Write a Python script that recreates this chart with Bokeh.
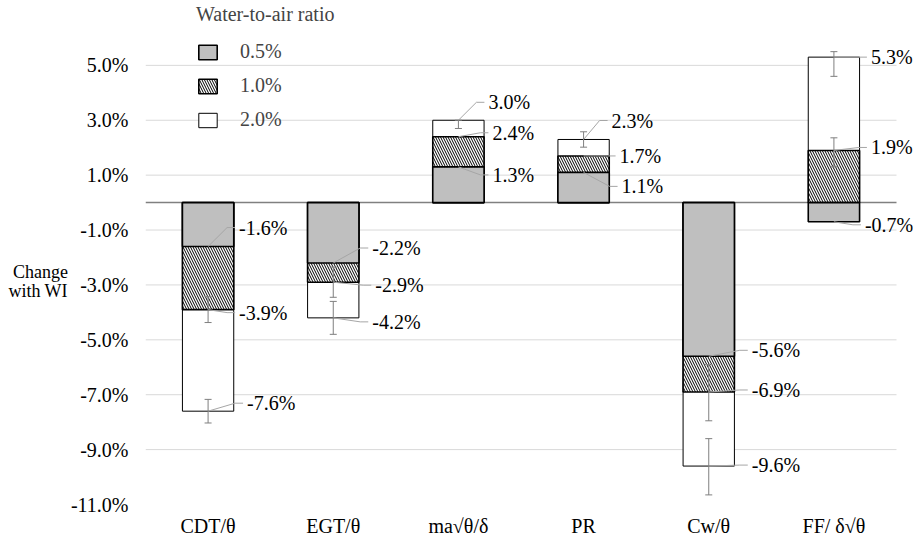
from bokeh.plotting import figure
from bokeh.models import (ColumnDataSource, Range1d, FixedTicker, PrintfTickFormatter,
                          Legend, LegendItem, LabelSet, Whisker, TeeHead)
from bokeh.embed import file_html
from bokeh.resources import INLINE

# ---------------- data ----------------
categories = ["CDT/θ", "EGT/θ", "ma√θ/δ", "PR", "Cw/θ", "FF/ δ√θ"]
series_names = ["0.5%", "1.0%", "2.0%"]
vals_05 = [-1.6, -2.2, 1.3, 1.1, -5.6, -0.7]
vals_10 = [-3.9, -2.9, 2.4, 1.7, -6.9, 1.9]
vals_20 = [-7.6, -4.2, 3.0, 2.3, -9.6, 5.3]
# error bar extents (percentage points)
err_plus_10 = [0.47, 0.55, 0.0, 0.0, 1.0, 0.46]
err_minus_10 = [0.47, 0.55, 0.0, 0.0, 1.05, 0.6]
err_plus_20 = [0.43, 0.6, 0.0, 0.28, 1.0, 0.2]
err_minus_20 = [0.43, 0.6, 0.3, 0.28, 1.05, 0.7]
y_ticks = [-11, -9, -7, -5, -3, -1, 1, 3, 5]
grid_ticks = [-9, -7, -5, -3, -1, 1, 3, 5]

# ---------------- layout / style ----------------
FONT = "Liberation Serif"
W, H = 913, 539
BL, BR, BT, BB = 145, 0, 0, 34
FW, FH = W - BL - BR, H - BT - BB
PX_X = 751 / 6.0                 # pixels per category
PX_Y = 27.5                      # pixels per percentage point
Y0 = -11.0
Y1 = Y0 + FH / PX_Y
X0 = -0.5
X1 = X0 + FW / PX_X
BAR_W = 0.41

# label placement offsets in pixels (dx right from bar centre, dy down from value)
lab_dx = {"0.5%": [31, 39, 34, 38, 43, 31], "1.0%": [31, 42, 34, 36, 43, 37], "2.0%": [39, 39, 30, 28, 43, 37]}
lab_dy = {"0.5%": [-19, -15, 8, 14, -6, 3], "1.0%": [3, 3, -4, 0, -2, -3], "2.0%": [-8, 4, -18, -19, -1, 0]}

p = figure(width=W, height=H, x_range=Range1d(X0, X1), y_range=Range1d(Y0, Y1),
           output_backend="svg", toolbar_location=None,
           min_border_left=BL, min_border_right=BR, min_border_top=BT, min_border_bottom=BB)
p.outline_line_color = None
p.background_fill_color = "white"

xs = list(range(len(categories)))

# axes
p.yaxis.ticker = FixedTicker(ticks=y_ticks)
p.yaxis.formatter = PrintfTickFormatter(format="%.1f%%")
p.yaxis.axis_line_color = None
p.yaxis.major_tick_line_color = None
p.yaxis.minor_tick_line_color = None
p.yaxis.major_tick_out = 0
p.yaxis.major_tick_in = 0
p.yaxis.major_label_standoff = 17
p.yaxis.major_label_text_font = FONT
p.yaxis.major_label_text_font_size = "20px"
p.yaxis.major_label_text_color = "#000000"
p.yaxis.axis_label = "\n\n\nChange\nwith WI"
p.yaxis.axis_label_orientation = "horizontal"
p.yaxis.axis_label_standoff = 0
p.yaxis.axis_label_text_font = FONT
p.yaxis.axis_label_text_font_size = "18px"
p.yaxis.axis_label_text_font_style = "normal"
p.yaxis.axis_label_text_color = "#000000"
p.yaxis.axis_label_text_line_height = 0.95

p.xaxis.ticker = FixedTicker(ticks=xs)
p.xaxis.major_label_overrides = {i: c for i, c in zip(xs, categories)}
p.xaxis.axis_line_color = None
p.xaxis.major_tick_line_color = None
p.xaxis.minor_tick_line_color = None
p.xaxis.major_tick_out = 0
p.xaxis.major_tick_in = 0
p.xaxis.major_label_standoff = 10
p.xaxis.major_label_text_font = FONT
p.xaxis.major_label_text_font_size = "20px"
p.xaxis.major_label_text_color = "#000000"

p.xgrid.visible = False
p.ygrid.visible = False
# horizontal gridlines limited to the category area, then the zero line
p.segment(x0=-0.5, x1=len(categories) - 0.5, y0=grid_ticks, y1=grid_ticks,
          line_color="#d9d9d9", line_width=1)
p.segment(x0=[-0.5], x1=[len(categories) - 0.5], y0=[0], y1=[0],
          line_color="#808080", line_width=1.5)

# bars: 2.0% behind, 1.0% middle, 0.5% front
src20 = ColumnDataSource(dict(x=xs, top=vals_20))
src10 = ColumnDataSource(dict(x=xs, top=vals_10))
src05 = ColumnDataSource(dict(x=xs, top=vals_05))
r20 = p.vbar(x="x", top="top", bottom=0, width=BAR_W, source=src20,
             fill_color="white", line_color="black", line_width=1)
r10 = p.vbar(x="x", top="top", bottom=0, width=BAR_W, source=src10,
             fill_color="white", hatch_pattern="\\", hatch_color="black", hatch_scale=5,
             hatch_weight=1, line_color="black", line_width=1.6)
r05 = p.vbar(x="x", top="top", bottom=0, width=BAR_W, source=src05,
             fill_color="#bfbfbf", line_color="black", line_width=1.6)

# error bars (drawn over the bars)
for vals, ep, em in ((vals_10, err_plus_10, err_minus_10), (vals_20, err_plus_20, err_minus_20)):
    bx, up, lo = [], [], []
    for i, v in enumerate(vals):
        if ep[i] == 0 and em[i] == 0:
            continue
        bx.append(i); up.append(v + ep[i]); lo.append(v - em[i])
    es = ColumnDataSource(dict(base=bx, upper=up, lower=lo))
    p.add_layout(Whisker(source=es, base="base", upper="upper", lower="lower", dimension="height",
                         level="annotation", line_color="#7f7f7f", line_width=1,
                         upper_head=TeeHead(size=7, line_color="#7f7f7f", line_width=1),
                         lower_head=TeeHead(size=7, line_color="#7f7f7f", line_width=1)))

# data labels with leader lines
lx, ly, lt, mxs, mys = [], [], [], [], []
for name, vals in (("0.5%", vals_05), ("1.0%", vals_10), ("2.0%", vals_20)):
    for i, v in enumerate(vals):
        dx, dy = lab_dx[name][i], lab_dy[name][i]
        tx = i + dx / PX_X
        ty = v - dy / PX_Y
        lx.append(tx); ly.append(ty); lt.append(f"{v:.1f}%")
        mxs.append([i, i + (dx - 12) / PX_X, i + (dx - 4) / PX_X])
        mys.append([v, ty, ty])
p.multi_line(xs=mxs, ys=mys, line_color="#a6a6a6", line_width=1)
p.add_layout(LabelSet(source=ColumnDataSource(dict(x=lx, y=ly, t=lt)), x="x", y="y", text="t",
                      text_font=FONT, text_font_size="20px", text_color="#000000",
                      text_align="left", text_baseline="middle"))

legend = Legend(items=[LegendItem(label=series_names[0], renderers=[r05]),
                       LegendItem(label=series_names[1], renderers=[r10]),
                       LegendItem(label=series_names[2], renderers=[r20])],
                title="Water-to-air ratio", location=(51, 373), glyph_width=23, glyph_height=18,
                label_standoff=21, spacing=11, padding=0, margin=0, title_standoff=14,
                border_line_color=None, background_fill_alpha=0,
                label_text_font=FONT, label_text_font_size="20px",
                title_text_font=FONT, title_text_font_size="20px", title_text_font_style="normal")
p.add_layout(legend)

open("out.html", "w").write(file_html(p, INLINE))
